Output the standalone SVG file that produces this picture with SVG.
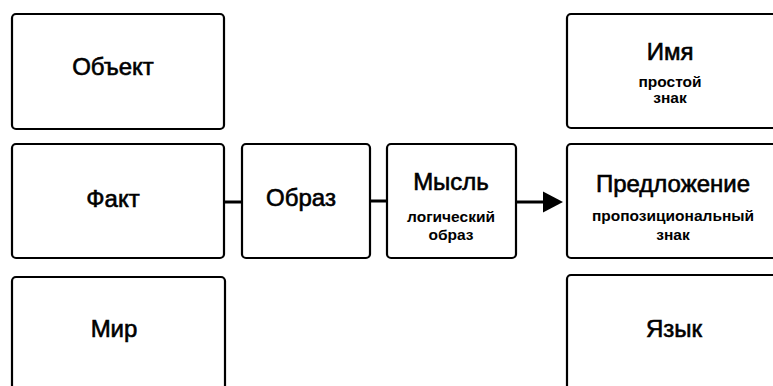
<svg xmlns="http://www.w3.org/2000/svg" width="773" height="386" viewBox="0 0 773 386">
  <style>
    .box { fill: #ffffff; stroke: #000000; stroke-width: 2.2; }
    .title { font-family: "Liberation Sans", Arial, sans-serif; font-size: 24px; fill: #000000; text-anchor: middle; stroke: #000; stroke-width: 0.6; }
    .sub { font-family: "Liberation Sans", Arial, sans-serif; font-size: 15.5px; font-weight: bold; fill: #000000; text-anchor: middle; }
    .link { stroke: #000000; stroke-width: 3; fill: none; }
  </style>

  <rect width="773" height="386" fill="#ffffff"/>

  <!-- left column -->
  <g id="node-object">
    <rect class="box" x="12" y="14" width="212" height="115" rx="4"/>
    <text class="title" x="113" y="75">Объект</text>
  </g>
  <g id="node-fact">
    <rect class="box" x="12" y="144" width="212" height="114" rx="4"/>
    <text class="title" x="113" y="207">Факт</text>
  </g>
  <g id="node-world">
    <rect class="box" x="12" y="277" width="213" height="125" rx="4"/>
    <text class="title" x="114" y="337">Мир</text>
  </g>

  <!-- middle -->
  <g id="node-image">
    <rect class="box" x="242" y="144" width="128" height="114" rx="4"/>
    <text class="title" x="301" y="206">Образ</text>
  </g>
  <g id="node-thought">
    <rect class="box" x="387" y="144" width="129" height="114" rx="4"/>
    <text class="title" x="451" y="190">Мысль</text>
    <text class="sub" x="451" y="222">логический</text>
    <text class="sub" x="451" y="240">образ</text>
  </g>

  <!-- right column -->
  <g id="node-name">
    <rect class="box" x="567" y="14" width="230" height="114" rx="4"/>
    <text class="title" x="670" y="60">Имя</text>
    <text class="sub" x="670" y="87">простой</text>
    <text class="sub" x="670" y="103">знак</text>
  </g>
  <g id="node-proposition">
    <rect class="box" x="567" y="144" width="230" height="114" rx="4"/>
    <text class="title" x="673" y="192">Предложение</text>
    <text class="sub" x="673" y="221">пропозициональный</text>
    <text class="sub" x="673" y="240">знак</text>
  </g>
  <g id="node-language">
    <rect class="box" x="567" y="275" width="230" height="130" rx="4"/>
    <text class="title" x="674" y="337">Язык</text>
  </g>

  <!-- connectors -->
  <g id="connectors">
    <line class="link" x1="224" y1="202" x2="242" y2="202"/>
    <line class="link" x1="370" y1="201" x2="387" y2="201"/>
    <line class="link" x1="516" y1="202" x2="545" y2="202"/>
    <path d="M543,191.5 L563,202 L543,212.5 Z" fill="#000"/>
  </g>
</svg>
